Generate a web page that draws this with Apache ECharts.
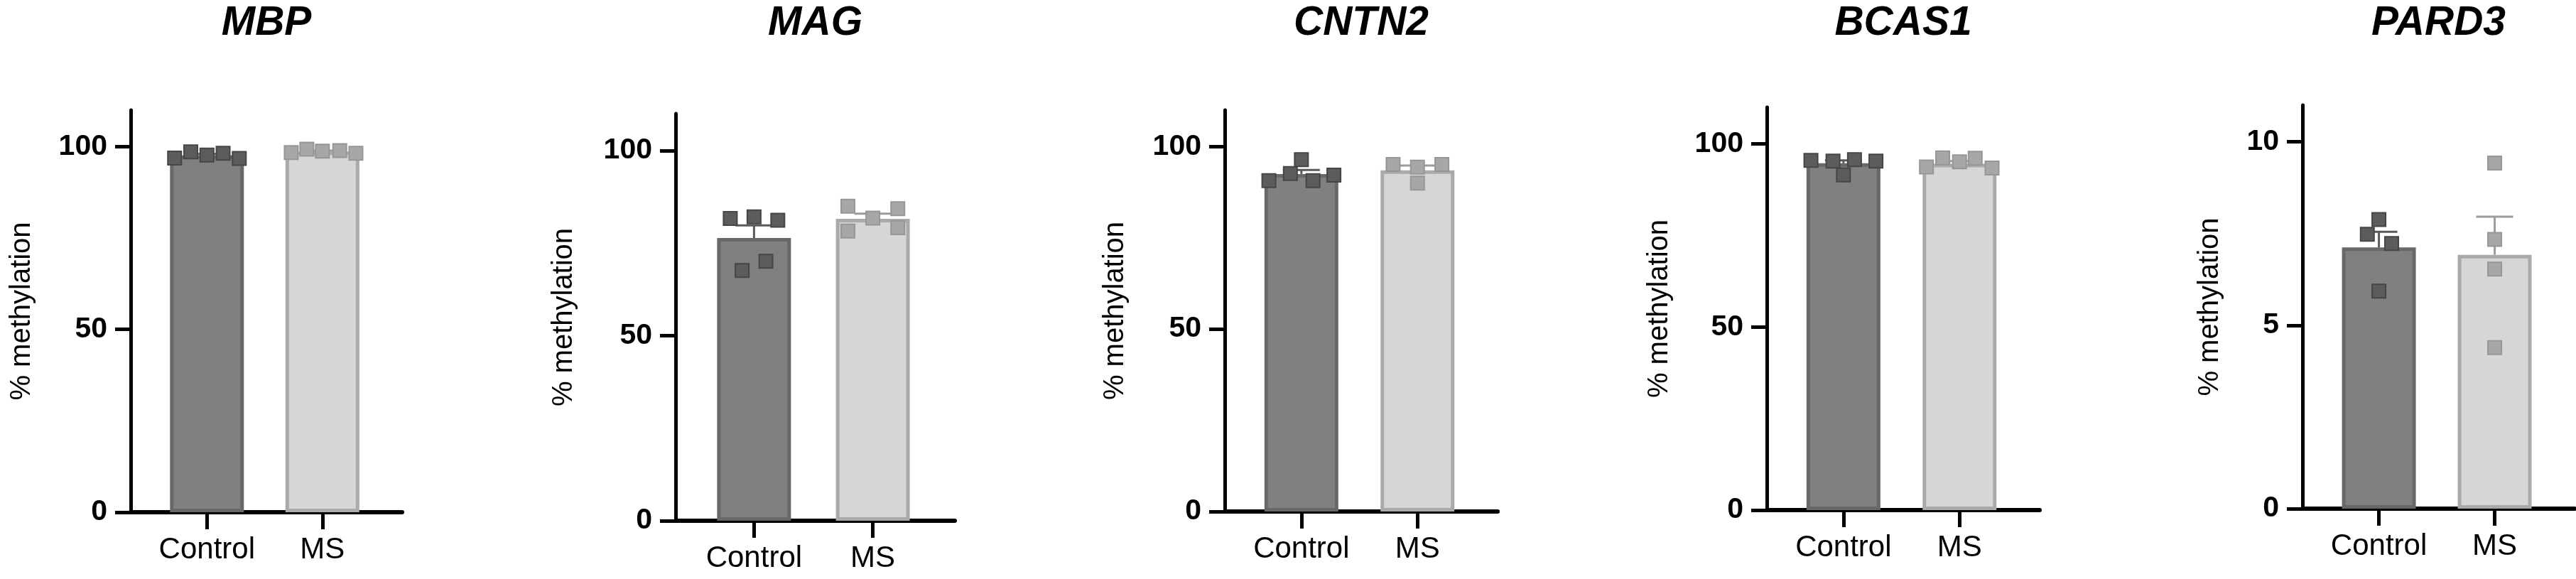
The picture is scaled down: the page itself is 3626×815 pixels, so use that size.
<!DOCTYPE html>
<html>
<head>
<meta charset="utf-8">
<title>% methylation</title>
<script src="https://cdn.jsdelivr.net/npm/echarts@6.0.0/dist/echarts.min.js"></script>
<style>
html, body { margin: 0; padding: 0; background: #fff; }
#chart { width: 3626px; height: 815px; }
</style>
</head>
<body>
<div id="chart"></div>
<script>
const categories = ['Control', 'MS'];
const genes = ['MBP', 'MAG', 'CNTN2', 'BCAS1', 'PARD3'];

// y axis range and tick labels per gene
const yMax = [110, 110, 110, 110, 11];
const yTicks = [[0, 50, 100], [0, 50, 100], [0, 50, 100], [0, 50, 100], [0, 5, 10]];

// bar height (mean) [Control, MS]
const meanMBP = [97.6, 98.7];
const meanMAG = [76.4, 81.6];
const meanCNTN2 = [92.5, 93.5];
const meanBCAS1 = [94.7, 94.6];
const meanPARD3 = [7.12, 6.92];

// top of the error bar (mean + SEM) [Control, MS]
const capMBP = [98.0, 98.9];
const capMAG = [79.8, 83.0];
const capCNTN2 = [93.6, 94.8];
const capBCAS1 = [95.5, 95.3];
const capPARD3 = [7.55, 7.96];

// single samples
const ctrlMBP = [96.9, 98.6, 97.7, 98.2, 96.8];
const msMBP = [98.4, 99.3, 98.8, 98.9, 98.2];
const ctrlMAG = [81.7, 82.1, 81.2, 67.6, 70.1];
const msMAG = [85.0, 78.3, 81.8, 84.3, 79.2];
const ctrlCNTN2 = [90.7, 92.6, 96.4, 90.7, 92.2];
const msCNTN2 = [95.1, 94.4, 95.1, 90.0];
const ctrlBCAS1 = [95.5, 95.3, 91.5, 95.7, 95.3];
const msBCAS1 = [93.7, 96.2, 95.1, 96.1, 93.4];
const ctrlPARD3 = [7.88, 7.48, 7.23, 5.93];
const msPARD3 = [9.42, 7.34, 6.53, 4.39];

// sideways spread of the dots around the bar centre (in category units)
const ctrlSpreadMBP = [-0.28, -0.14, 0, 0.14, 0.28];
const msSpreadMBP = [-0.27, -0.135, 0, 0.15, 0.29];
const ctrlSpreadMAG = [-0.2, 0, 0.2, -0.1, 0.1];
const msSpreadMAG = [-0.21, -0.21, 0, 0.21, 0.21];
const ctrlSpreadCNTN2 = [-0.28, -0.095, 0, 0.1, 0.28];
const msSpreadCNTN2 = [-0.21, 0, 0.21, 0];
const ctrlSpreadBCAS1 = [-0.28, -0.09, 0, 0.095, 0.28];
const msSpreadBCAS1 = [-0.285, -0.145, 0, 0.135, 0.28];
const ctrlSpreadPARD3 = [0, -0.1, 0.11, 0];
const msSpreadPARD3 = [0, 0, 0, 0];

const panels = [
    { mean: meanMBP, cap: capMBP, pts: [ctrlMBP, msMBP], spread: [ctrlSpreadMBP, msSpreadMBP] },
    { mean: meanMAG, cap: capMAG, pts: [ctrlMAG, msMAG], spread: [ctrlSpreadMAG, msSpreadMAG] },
    { mean: meanCNTN2, cap: capCNTN2, pts: [ctrlCNTN2, msCNTN2], spread: [ctrlSpreadCNTN2, msSpreadCNTN2] },
    { mean: meanBCAS1, cap: capBCAS1, pts: [ctrlBCAS1, msBCAS1], spread: [ctrlSpreadBCAS1, msSpreadBCAS1] },
    { mean: meanPARD3, cap: capPARD3, pts: [ctrlPARD3, msPARD3], spread: [ctrlSpreadPARD3, msSpreadPARD3] }
];

// layout of the five plots
const boxes = [
    { left: 184, top: 155, width: 382, height: 566, nameGap: 133 },
    { left: 951, top: 160, width: 393, height: 573, nameGap: 137 },
    { left: 1724, top: 155, width: 384, height: 565, nameGap: 134 },
    { left: 2487, top: 151, width: 384, height: 567, nameGap: 131 },
    { left: 3241, top: 148, width: 383, height: 568, nameGap: 110 }
];

const font = '"Liberation Sans", Arial, sans-serif';
const barFill = ['#808080', '#d6d6d6'];
const barEdge = ['#686868', '#aaaaaa'];
const errColor = ['#5a5a5a', '#9c9c9c'];
const dotFill = ['#5c5c5c', '#a7a7a7'];
const dotEdge = ['#454545', '#969696'];

const grid = [], xAxis = [], yAxis = [], series = [], graphic = [];

panels.forEach(function (p, i) {
    const b = boxes[i];
    grid.push({ left: b.left, top: b.top, width: b.width, height: b.height });

    xAxis.push({
        type: 'value', gridIndex: i, min: -0.66, max: 1.69,
        splitLine: { show: false },
        axisLine: { show: true, onZero: false, lineStyle: { color: '#000', width: 6 } },
        axisTick: { show: true, customValues: [0, 1], length: 24, lineStyle: { color: '#000', width: 5 } },
        axisLabel: {
            customValues: [0, 1], margin: 32, color: '#000',
            fontFamily: font, fontSize: 42,
            formatter: function (v) { return categories[Math.round(v)]; }
        }
    });

    yAxis.push({
        type: 'value', gridIndex: i, min: 0, max: yMax[i],
        name: '% methylation', nameLocation: 'middle', nameGap: b.nameGap,
        nameTextStyle: { fontFamily: font, fontSize: 40, color: '#000' },
        splitLine: { show: false },
        axisLine: { show: true, onZero: false, lineStyle: { color: '#000', width: 5 } },
        axisTick: { show: true, customValues: yTicks[i], length: 22, lineStyle: { color: '#000', width: 5 } },
        axisLabel: {
            customValues: yTicks[i], margin: 33, color: '#000',
            fontFamily: font, fontSize: 41, fontWeight: 'bold'
        }
    });

    series.push({
        type: 'bar', xAxisIndex: i, yAxisIndex: i, barWidth: 104, z: 2,
        data: p.mean.map(function (v, k) {
            return { value: [k, v], itemStyle: { color: barFill[k], borderColor: barEdge[k], borderWidth: 5 } };
        })
    });

    // SEM, upper half only
    series.push({
        type: 'custom', xAxisIndex: i, yAxisIndex: i, z: 3,
        encode: { x: 0, y: [1, 2] },
        data: p.mean.map(function (v, k) { return [k, v, p.cap[k]]; }),
        renderItem: function (params, api) {
            const lo = api.coord([api.value(0), api.value(1)]);
            const hi = api.coord([api.value(0), api.value(2)]);
            const st = { stroke: errColor[params.dataIndex], lineWidth: 3 };
            return {
                type: 'group',
                children: [
                    { type: 'line', shape: { x1: lo[0], y1: lo[1], x2: hi[0], y2: hi[1] }, style: st },
                    { type: 'line', shape: { x1: hi[0] - 26, y1: hi[1], x2: hi[0] + 26, y2: hi[1] }, style: st }
                ]
            };
        }
    });

    p.pts.forEach(function (vals, k) {
        series.push({
            type: 'scatter', xAxisIndex: i, yAxisIndex: i, z: 4,
            symbol: 'rect', symbolSize: 19,
            itemStyle: { color: dotFill[k], borderColor: dotEdge[k], borderWidth: 2, opacity: 1 },
            data: vals.map(function (v, j) { return [k + p.spread[k][j], v]; })
        });
    });

    graphic.push({
        type: 'text', x: b.left + b.width / 2, y: 33,
        style: {
            text: genes[i], fill: '#000',
            font: 'italic bold 57px ' + font,
            align: 'center', verticalAlign: 'middle',
            textAlign: 'center', textVerticalAlign: 'middle'
        }
    });
});

const option = {
    backgroundColor: '#fff',
    animation: false,
    grid: grid,
    xAxis: xAxis,
    yAxis: yAxis,
    series: series,
    graphic: graphic
};

const mychart = echarts.init(document.getElementById('chart'));
mychart.setOption(option);
</script>
</body>
</html>
